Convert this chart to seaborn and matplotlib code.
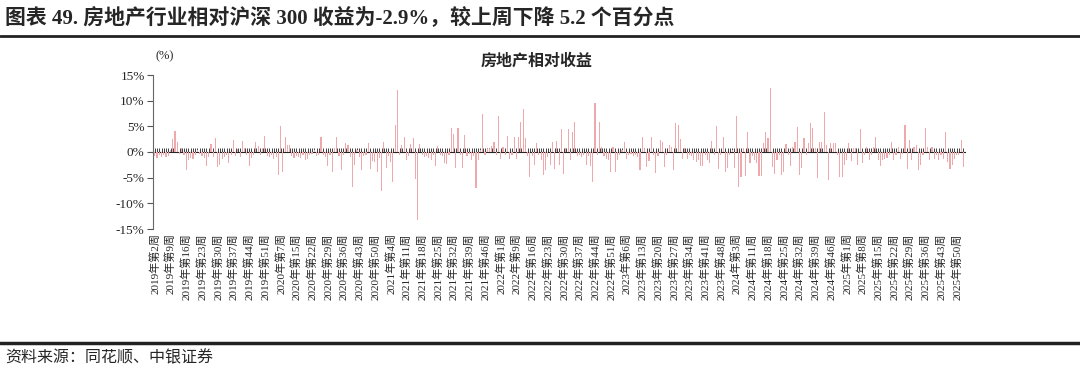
import matplotlib
matplotlib.use('Agg')
import matplotlib.pyplot as plt
import seaborn as sns
import pandas as pd
from matplotlib.lines import Line2D

# 周度区间（首周, 末周），以及数据中缺失的周
YEAR_WEEKS = {2019: (2, 52), 2020: (1, 53), 2021: (1, 52), 2022: (1, 52),
              2023: (1, 52), 2024: (1, 52), 2025: (1, 52), 2026: (1, 1)}
SKIPPED_WEEKS = {(2020, 4), (2020, 14), (2022, 5), (2024, 7)}

# 房地产相对沪深300周收益（%）
ret_2019 = [-0.8, -1.2, -0.6, -0.9, -0.5, -1.0, -0.7, 0.3, 2.5, 4.0,
            2.0, -0.4, 0.8, -0.6, -3.5, -1.5, -1.2, -1.4, -0.5, 0.3,
            -0.4, -0.8, -1.2, -2.7, -0.9, 1.6, -1.0, 2.7, -3.0, -2.5,
            -1.4, -1.0, -0.6, -2.2, -0.5, 2.3, -0.7, 0.5, -0.9, 2.1,
            0.8, -0.6, -2.7, -1.1, -0.5, 1.9, 1.2, -0.6, 0.8, 3.2,
            -0.8]
ret_2020 = [-1.0, -0.6, -1.3, -0.9, -4.5, 5.1, -3.8, 3.0, 1.4, 1.3,
            -0.8, -1.1, -0.7, -0.9, -1.2, -0.5, -1.5, -1.4, -0.6, -0.4,
            0.3, -0.7, -0.5, 2.9, -0.6, -0.9, -2.7, -0.5, -3.8, 0.7,
            2.9, -0.8, -3.5, -0.6, 1.7, 1.4, -0.9, -6.8, -2.5, 0.3,
            -0.9, -3.6, -0.7, -0.5, 1.7, -3.4, -1.8, -2.0, -3.8, -1.2,
            -7.5]
ret_2021 = [2.0, -3.2, -0.8, -2.0, -5.8, 5.3, 12.1, -0.6, 1.4, 2.9,
            -1.5, -0.7, 1.6, 2.7, -5.3, -13.2, 1.6, -0.5, -1.0, -0.7,
            -1.1, -1.5, -0.6, -2.7, 1.2, -0.5, -0.8, -2.2, -2.3, -0.6,
            4.6, 3.6, -3.2, 4.7, -0.5, -3.2, 3.4, -0.7, -0.4, -1.5,
            -0.8, -7.1, -1.5, 0.4, 7.5, -0.6, 0.5, 0.6, 1.2, 1.9,
            -0.5, 7.0]
ret_2022 = [-1.4, 1.0, -0.6, 3.1, -1.3, -0.5, 2.9, -1.3, 3.0, 5.9,
            8.4, 2.7, -0.8, -4.8, -0.7, -2.5, 1.8, -0.6, -1.5, -4.5,
            -3.5, -0.9, -2.5, 2.0, -3.4, 2.1, -2.5, 4.4, -4.2, 0.7,
            4.4, -1.6, 3.8, 5.8, -0.8, -0.6, -0.9, -0.5, -2.5, -0.7,
            -2.7, -5.8, 9.6, -0.6, 5.9, 1.0, -0.7, -1.3, -1.5, -3.8,
            1.0]
ret_2023 = [-3.8, -1.5, -0.5, 0.4, 2.0, -1.3, -0.6, -0.4, -0.8, -0.5,
            -0.9, -3.5, 2.9, 0.5, -3.0, -1.8, 3.0, -0.6, -4.0, -0.8,
            2.3, 2.0, -3.0, -0.5, 1.4, 1.0, -3.5, 5.6, 5.3, 2.5,
            -1.3, 0.7, -1.3, -0.5, -0.8, -1.5, -2.0, -1.6, -2.7, -2.7,
            -0.6, -1.5, -2.2, 2.1, -0.5, 5.1, -3.4, -0.6, 2.9, -3.8,
            -3.2, -0.5]
ret_2024 = [0.4, -3.2, 7.0, -6.9, -4.8, 0.7, -4.7, 3.8, -2.2, -0.8,
            -1.5, -2.2, -4.7, -4.7, 1.8, 3.8, 2.7, 12.4, -3.0, -4.2,
            -1.5, -0.6, -4.5, -3.8, 1.6, -0.5, -2.7, 1.0, 2.0, 4.9,
            -4.5, -3.2, 2.7, -0.6, 1.8, 5.6, 4.6, 0.7, -5.1, 2.0,
            2.0, 7.7, 1.4, -5.5, 1.7, 1.8, 1.8, -0.5, -4.8, -4.8,
            -2.5]
ret_2025 = [-1.6, 1.7, -1.8, 0.7, 0.7, -2.5, 4.4, -2.2, -0.6, 1.0,
            -1.6, -0.5, 1.0, 2.9, -1.6, -2.7, -1.5, -1.4, -1.2, -0.6,
            2.0, -1.5, -0.5, 1.0, -1.3, -0.4, 5.3, -3.4, 2.3, -1.6,
            1.0, 1.4, -3.6, -2.5, -0.5, 4.6, 1.0, -1.5, 1.0, -1.3,
            -0.5, -1.6, -0.6, -1.3, 3.8, -1.9, -3.4, -2.5, -1.3, -0.5,
            -0.6, 2.3]
ret_2026 = [-2.9]

TITLE = '图表 49. 房地产行业相对沪深 300 收益为-2.9%，较上周下降 5.2 个百分点'
CHART_TITLE = '房地产相对收益'
SOURCE = '资料来源：同花顺、中银证券'
Y_TICKS = [15, 10, 5, 0, -5, -10, -15]

weeks = [f'{y}年第{w}周' for y, (a, b) in YEAR_WEEKS.items()
         for w in range(a, b + 1) if (y, w) not in SKIPPED_WEEKS]
values = ret_2019 + ret_2020 + ret_2021 + ret_2022 + ret_2023 + ret_2024 + ret_2025 + ret_2026
df = pd.DataFrame({'week': weeks, 'ret': values})

sns.set_style('white')
plt.rcParams['font.family'] = ['Liberation Serif', 'Noto Sans CJK SC']
plt.rcParams['axes.unicode_minus'] = False

W, H = 1080, 380
fig = plt.figure(figsize=(W / 100, H / 100), dpi=100)
ax = fig.add_axes([153 / W, 1 - 229 / H, (965 - 153) / W, (229 - 75) / H])

sns.barplot(data=df, x='week', y='ret', order=weeks, color='#EEA9AC',
            saturation=1, width=0.5, linewidth=0, ax=ax)

n = len(weeks)
ax.set_xlim(-0.8, n - 0.3)
ax.set_ylim(-15, 15)
ax.set_yticks(Y_TICKS, labels=[f'{v}%' for v in Y_TICKS], fontsize=9.5)
tick_pos = list(range(0, n, 7))
ax.set_xticks(tick_pos, labels=[weeks[i] for i in tick_pos], rotation=90, fontsize=8)
ax.tick_params(axis='x', length=0, pad=3)
ax.tick_params(axis='y', left=True, length=4, width=0.8, color='#555555', direction='out', pad=2)
ax.set_xlabel('')
ax.set_ylabel('')
for s in ['top', 'right', 'bottom']:
    ax.spines[s].set_visible(False)
ax.spines['left'].set_color('#666666')
ax.spines['left'].set_linewidth(0.8)

# 零轴及每周刻度
zero = ax.secondary_xaxis(0.5)
zero.set_xticks(range(n), labels=[''] * n)
zero.tick_params(length=3, width=0.6, color='#222222', direction='out')
zero.spines['bottom'].set_color('#222222')
zero.spines['bottom'].set_linewidth(0.8)

fig.text(5 / W, 1 - 19 / H, TITLE, fontsize=15, fontweight='bold', va='center', ha='left')
fig.add_artist(Line2D([0, 1], [1 - 36 / H, 1 - 36 / H], transform=fig.transFigure,
                      color='#222222', lw=2))
fig.text(165 / W, 1 - 56 / H, '(%)', fontsize=9, ha='center', va='center')
fig.text(537 / W, 1 - 62 / H, CHART_TITLE, fontsize=11.5, fontweight='bold',
         ha='center', va='center')
fig.add_artist(Line2D([0, 1], [1 - 343 / H, 1 - 343 / H], transform=fig.transFigure,
                      color='#222222', lw=2.5))
fig.text(5 / W, 1 - 358 / H, SOURCE, fontsize=11.5, ha='left', va='center', style='italic')

fig.savefig('out.png', dpi=100)
